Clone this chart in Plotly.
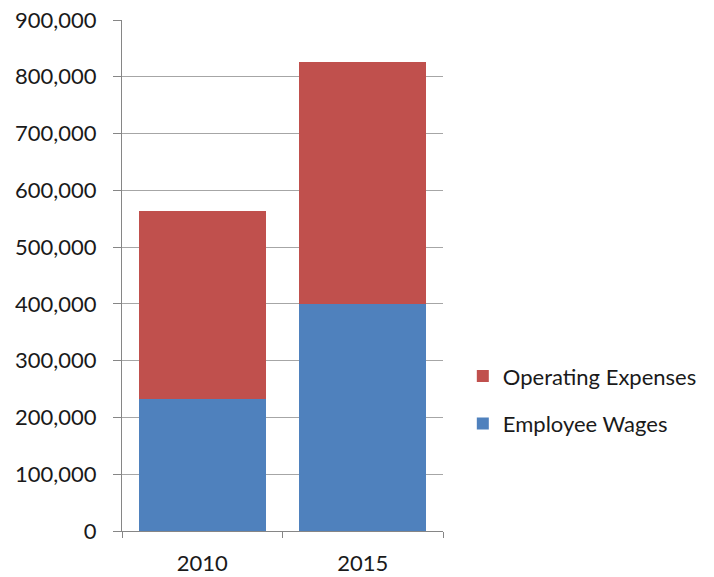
import plotly.graph_objects as go

years = ["2010", "2015"]
employee_wages = [233000, 400000]
operating_expenses = [331000, 426000]
y_ticks = [0, 100000, 200000, 300000, 400000, 500000, 600000, 700000, 800000, 900000]
y_tick_labels = ["0", "100,000", "200,000", "300,000", "400,000", "500,000",
                 "600,000", "700,000", "800,000", "900,000"]

FONT = "Lato, Carlito, Calibri, sans-serif"

fig = go.Figure()
fig.add_trace(go.Bar(x=years, y=employee_wages, name="Employee Wages",
                     marker=dict(color="#4F81BD", line=dict(width=0)),
                     legendgroup="a", legendrank=2))
fig.add_trace(go.Bar(x=years, y=operating_expenses, name="Operating Expenses",
                     marker=dict(color="#C0504D", line=dict(width=0)),
                     legendgroup="b", legendrank=1))

PLOT_L, PLOT_R = 122, 446
fig.update_layout(
    barmode="stack",
    bargap=0.21,
    width=714, height=577,
    margin=dict(l=PLOT_L, r=714 - PLOT_R, t=20, b=46),
    plot_bgcolor="white", paper_bgcolor="white",
    font=dict(family=FONT, size=22, color="#1a1a1a"),
    legend=dict(x=(466 - PLOT_L) / (PLOT_R - PLOT_L), xanchor="left",
                y=0.256, yanchor="middle",
                traceorder="grouped", tracegroupgap=16,
                font=dict(family=FONT, size=22, color="#1a1a1a"),
                itemwidth=30),
    xaxis=dict(showline=True, linecolor="#868686", linewidth=1,
               ticks="outside", ticklen=6, tickcolor="#868686",
               showgrid=False, tickson="boundaries", automargin=False,
               ticklabelstandoff=13,
               tickfont=dict(family=FONT, size=22)),
    yaxis=dict(range=[0, 900000], tickvals=y_ticks, ticktext=y_tick_labels,
               showline=True, linecolor="#868686", linewidth=1,
               ticks="outside", ticklen=8, tickcolor="#868686",
               showgrid=True, gridcolor="#A6A6A6", gridwidth=1,
               zeroline=False, automargin=False, ticklabelstandoff=12,
               ticklabeloverflow="allow",
               tickfont=dict(family=FONT, size=22)),
)

fig.write_html("out.html", config={"displayModeBar": False},
               post_script="document.body.style.margin='0';window.dispatchEvent(new Event('resize'));")
